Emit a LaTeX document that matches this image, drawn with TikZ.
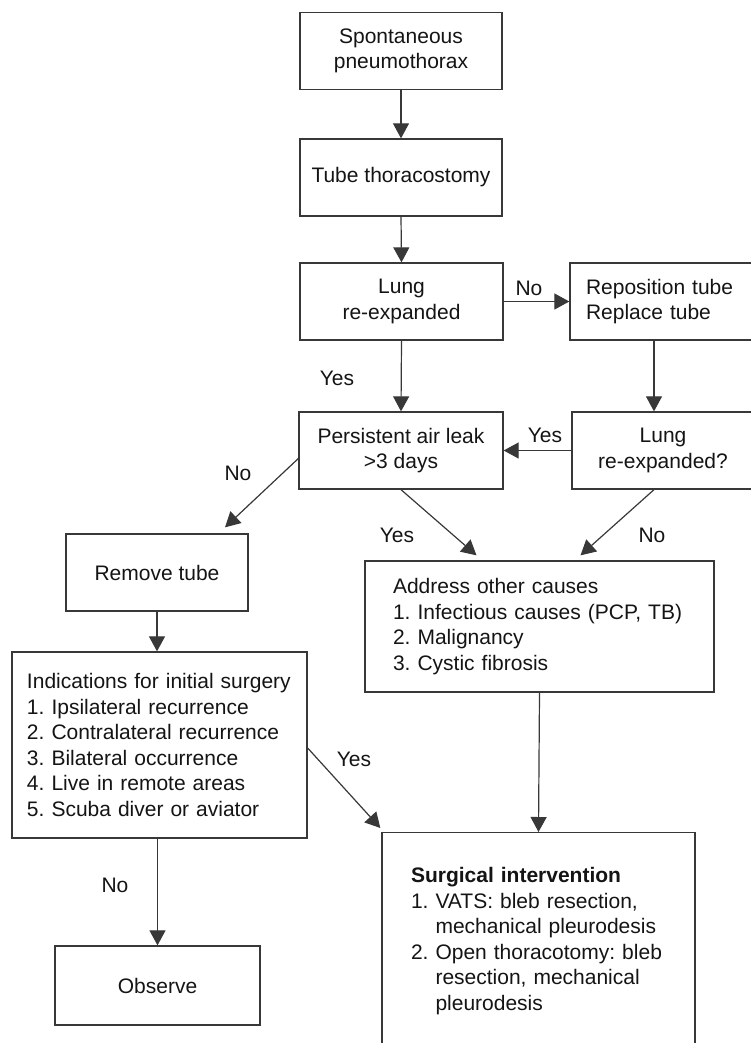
\documentclass[tikz,border=0pt]{standalone}
\usepackage{fontspec}
\setmainfont{Liberation Sans}
\usetikzlibrary{arrows.meta}
\definecolor{ink}{HTML}{141414}
\definecolor{edge}{HTML}{383838}
\frenchspacing
\begin{document}
\begin{tikzpicture}[x=1pt,y=-1pt,
  every node/.style={font=\fontsize{21}{25.5}\selectfont, text=ink},
  box/.style={draw=edge, line width=1.3pt, inner sep=0pt, align=center},
  leftbox/.style={box, align=left},
  flow/.style={draw=edge, line width=1.2pt, -{Triangle[length=15pt,width=16pt]}},
  lbl/.style={inner sep=0pt}]
\useasboundingbox (0,0) rectangle (751,1043);
\clip (0,0) rectangle (751,1043);

% decision chain
\node[box, minimum width=202pt, minimum height=77pt] (start) at (401,51) {Spontaneous\\pneumothorax};
\node[box, minimum width=202pt, minimum height=77pt] (tube) at (401,177.5) {Tube thoracostomy};
\node[box, minimum width=203pt, minimum height=77pt] (lung) at (401.5,301.5) {Lung\\re-expanded};
\node[leftbox, text width=152pt, inner xsep=16pt, minimum height=77pt] (repos) at (662,301.5) {Reposition tube\\Replace tube};
\node[box, minimum width=204pt, minimum height=77pt] (leak) at (401,450.5) {Persistent air leak\\>3 days};
\node[box, minimum width=182pt, minimum height=77pt] (lungq) at (663,450.5) {Lung\\re-expanded?};
\node[box, minimum width=182pt, minimum height=77pt] (remove) at (157,572.5) {Remove tube};
\node[leftbox, text width=293pt, inner xsep=28pt, minimum height=131pt] (other) at (539.5,626.5)
  {Address other causes\\1. Infectious causes (PCP, TB)\\2. Malignancy\\3. Cystic fibrosis};
\node[leftbox, text width=265pt, inner xsep=15pt, minimum height=186pt] (indic) at (159.5,745)
  {Indications for initial surgery\\1. Ipsilateral recurrence\\2. Contralateral recurrence\\3. Bilateral occurrence\\4. Live in remote areas\\5. Scuba diver or aviator};
% the surgical box runs on past the lower edge of the page
\node[leftbox, text width=255pt, inner xsep=29pt, inner ysep=35pt, anchor=north] (surg) at (538.5,832)
  {\textbf{Surgical intervention}\\1. VATS: bleb resection,\\\hphantom{1.\ }mechanical pleurodesis\\2. Open thoracotomy: bleb\\\hphantom{1.\ }resection, mechanical\\\hphantom{1.\ }pleurodesis\rule[-60pt]{0pt}{60pt}};
\node[box, minimum width=205pt, minimum height=79pt] (observe) at (157.5,985.5) {Observe};

% connectors
\draw[flow] (start.south) -- (tube.north);
\draw[flow] (tube.south) -- (lung.north);
\draw[flow] (lung.east) -- (repos.west);
\draw[flow] (lung.south) -- (leak.north);
\draw[flow] ([xshift=-8pt]repos.south) -- ([xshift=-9pt]lungq.north);
\draw[flow] (lungq.west) -- (leak.east);
\draw[flow] ([yshift=-8pt]leak.west) -- ([xshift=68pt,yshift=6pt]remove.north);
\draw[flow] (leak.south) -- ([xshift=-63pt,yshift=5pt]other.north);
\draw[flow] ([xshift=-9pt]lungq.south) -- ([xshift=41pt,yshift=5pt]other.north);
\draw[flow] (remove.south) -- (remove.south |- indic.north);
\draw[flow] ([yshift=-3pt]indic.east) -- ([xshift=-1pt,yshift=4pt]surg.north west);
\draw[flow] (other.south) -- (surg.north);
\draw[flow] (observe.north |- indic.south) -- (observe.north);

% branch labels
\node[lbl] (nolung) at (529,288) {No};
\node[lbl] (yeslung) at (337,378) {Yes};
\node[lbl] (yesq) at (545,435) {Yes};
\node[lbl] (noleak) at (238,473) {No};
\node[lbl] (yesleak) at (397,535) {Yes};
\node[lbl] (noq) at (652,535) {No};
\node[lbl] (yesind) at (354,759) {Yes};
\node[lbl] (noind) at (115,885) {No};
\end{tikzpicture}
\end{document}
